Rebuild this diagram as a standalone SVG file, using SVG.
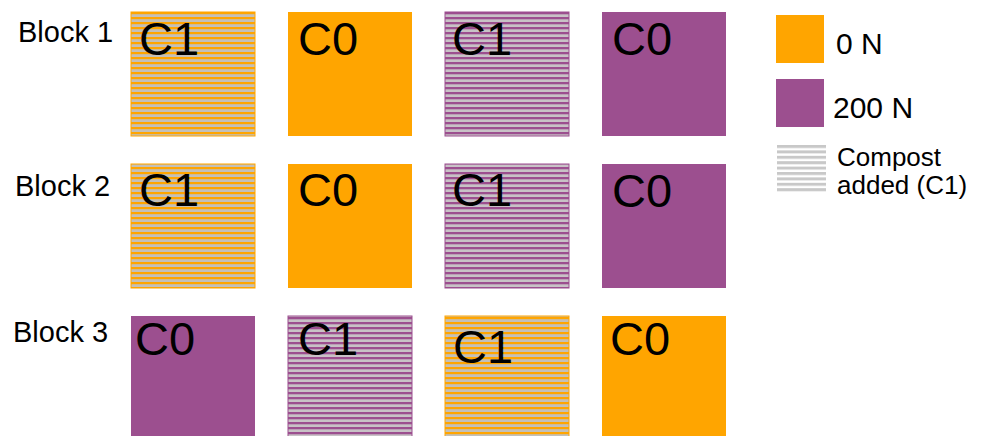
<svg xmlns="http://www.w3.org/2000/svg" width="984" height="436" viewBox="0 0 984 436">
<style>
text{font-family:"Liberation Sans",Arial,sans-serif;fill:#000}
.blk{font-size:29px}
.lab{font-size:47px}
.leg{font-size:30px}
.leg2{font-size:26px}
.o{fill:#FFA500}
.p{fill:#9C4F8F}
.os{fill:url(#stripeO);stroke:#FFA500;stroke-width:1}
.ps{fill:url(#stripeP);stroke:#9C4F8F;stroke-width:1}
</style>
<defs>
<pattern id="stripeO" patternUnits="userSpaceOnUse" x="0" y="12" width="10" height="5">
<rect width="10" height="5" fill="#C4C0B8"/>
<rect width="10" height="2.2" fill="#FFA500"/>
</pattern>
<pattern id="stripeP" patternUnits="userSpaceOnUse" x="0" y="12" width="10" height="5">
<rect width="10" height="5" fill="#C8C2C6"/>
<rect width="10" height="2.3" fill="#9C4F8F"/>
</pattern>
<pattern id="stripeL" patternUnits="userSpaceOnUse" x="0" y="145" width="10" height="5.4">
<rect width="10" height="5.4" fill="#FFFFFF"/>
<rect width="10" height="3" fill="#C8C8C8"/>
</pattern>
</defs>
<rect width="984" height="436" fill="#FFFFFF"/>

<g id="block-labels">
<text class="blk" x="18" y="42">Block 1</text>
<text class="blk" x="15" y="196">Block 2</text>
<text class="blk" x="13" y="342">Block 3</text>
</g>

<g id="r1c1"><rect class="os" x="131" y="12" width="124" height="124"/><text class="lab" x="139" y="55">C1</text></g>
<g id="r1c2"><rect class="o" x="288" y="12" width="124" height="124"/><text class="lab" x="298" y="55">C0</text></g>
<g id="r1c3"><rect class="ps" x="445" y="12" width="124" height="124"/><text class="lab" x="452" y="55">C1</text></g>
<g id="r1c4"><rect class="p" x="602" y="12" width="124" height="124"/><text class="lab" x="612" y="55">C0</text></g>

<g id="r2c1"><rect class="os" x="131" y="164" width="124" height="124"/><text class="lab" x="139" y="206">C1</text></g>
<g id="r2c2"><rect class="o" x="288" y="164" width="124" height="124"/><text class="lab" x="298" y="206">C0</text></g>
<g id="r2c3"><rect class="ps" x="445" y="164" width="124" height="124"/><text class="lab" x="452" y="206">C1</text></g>
<g id="r2c4"><rect class="p" x="602" y="164" width="124" height="124"/><text class="lab" x="612" y="207">C0</text></g>

<g id="r3c1"><rect class="p" x="131" y="316" width="124" height="124"/><text class="lab" x="135" y="355">C0</text></g>
<g id="r3c2"><rect class="ps" x="288" y="316" width="124" height="124"/><text class="lab" x="298" y="355">C1</text></g>
<g id="r3c3"><rect class="os" x="445" y="316" width="124" height="124"/><text class="lab" x="453" y="363">C1</text></g>
<g id="r3c4"><rect class="o" x="602" y="316" width="124" height="124"/><text class="lab" x="610" y="355">C0</text></g>

<g id="legend-0N"><rect class="o" x="776" y="15" width="48" height="48"/><text class="leg" x="836" y="54">0 N</text></g>
<g id="legend-200N"><rect class="p" x="776" y="79" width="48" height="48"/><text class="leg" x="833" y="118">200 N</text></g>
<g id="legend-compost"><rect fill="url(#stripeL)" x="777" y="145" width="49" height="48"/><text class="leg2" x="837" y="166">Compost</text><text class="leg2" x="837" y="194">added (C1)</text></g>
</svg>
